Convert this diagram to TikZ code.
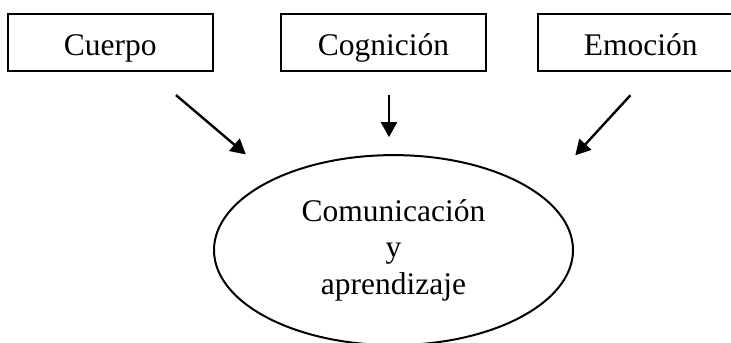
\documentclass[tikz,border=0pt]{standalone}
\usepackage{fontspec}
\setmainfont{Liberation Serif}
\usepackage{tikz}
\usetikzlibrary{arrows.meta}
\usetikzlibrary{positioning}
\usetikzlibrary{shapes.geometric}

\begin{document}
\begin{tikzpicture}[->,>={Triangle[length=7.5pt,width=8pt]},line width=1.2pt]
\tikzstyle{caja}=[draw,line width=1.1pt,minimum width=102.5pt,minimum height=28.5pt,inner sep=0pt,text height=12.5pt,text depth=0pt,font=\fontsize{15.75pt}{18.25pt}\selectfont]
\tikzstyle{elipse}=[draw,ellipse,line width=1pt,minimum width=179.5pt,minimum height=95pt,inner sep=0pt,align=center,font=\fontsize{15.75pt}{18.25pt}\selectfont]
\clip (0,0) rectangle (365.5pt,-171pt);
\node[caja]	(cog)	at (191.75pt,-21.25pt)	{Cognición};
\node[caja]	(cue)	[left=33pt of cog]		{Cuerpo};
\node[caja]	(emo)	[right=25pt of cog]		{Emoción};
\node[elipse]	(com)	[below=41pt of cog, xshift=5pt]	{Comunicación\\y\\aprendizaje};
\path([xshift=-32.5pt]cue.south east)	edge	[shorten <=17.75pt, shorten >=18.4pt]	(com.149.3)
	 ([xshift=2.75pt]cog.south)			edge	[shorten <=11.5pt, shorten >=8.5pt]		([xshift=-2.25pt]com.north)
	 ([xshift=5.45pt]emo.south)			edge	[shorten <=15.7pt, shorten >=26.2pt]	(com.21.5);
\end{tikzpicture}
\end{document}
